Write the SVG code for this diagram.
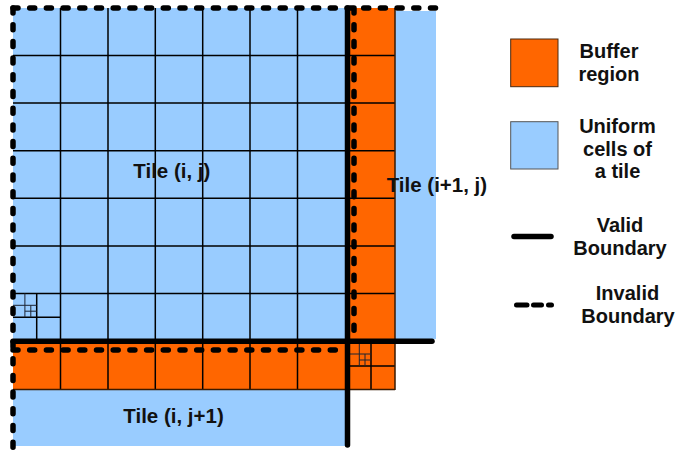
<svg xmlns="http://www.w3.org/2000/svg" width="691" height="450" viewBox="0 0 691 450">
  <style>
    .cell { fill: #99ccff; }
    .buf { fill: #ff6600; }
    .grid { stroke: #000; stroke-width: 1.5; fill: none; }
    .fine { stroke: #1c2433; stroke-width: 1; fill: none; }
    .edge { stroke: #3a1a00; stroke-width: 1.5; fill: none; }
    .valid { stroke: #000; stroke-width: 5.5; stroke-linecap: round; fill: none; }
    .invalid { stroke: #000; stroke-width: 5.5; stroke-linecap: round; stroke-dasharray: 5 11.7; fill: none; }
    .label { font-family: "Liberation Sans", Arial, sans-serif; font-weight: bold; font-size: 20.5px; fill: #111; }
    .legend { font-family: "Liberation Sans", Arial, sans-serif; font-weight: bold; font-size: 20px; fill: #111; text-anchor: middle; }
  </style>

  <!-- Tile (i, j): 7x7 uniform cells -->
  <g id="tile-i-j">
    <rect class="cell" x="13" y="8" width="332" height="333"/>
    <path class="grid" d="M60.5 8V341 M108 8V341 M155.3 8V341 M202.7 8V341 M250 8V341 M297.5 8V341
                          M13 55.6H345 M13 103.1H345 M13 150.7H345 M13 198.3H345 M13 245.9H345 M13 293.4H345"/>
    <!-- refined corner cell -->
    <path class="grid" d="M36.7 293.4V341 M13 317.2H60.5"/>
    <path class="fine" d="M24.9 293.4V317.2 M13 305.3H36.7 M30.8 305.3V317.2 M24.9 311.2H36.7"/>
    <text class="label" x="133.3" y="178.3">Tile (i, j)</text>
  </g>

  <!-- Tile (i+1, j) with its buffer column -->
  <g id="tile-i1-j">
    <rect class="cell" x="395" y="11" width="41" height="328"/>
    <rect class="buf" x="349" y="8" width="46" height="334"/>
    <path class="grid" d="M349 55.6H395 M349 103.1H395 M349 150.7H395 M349 198.3H395 M349 245.9H395 M349 293.4H395"/>
    <path class="edge" d="M395 8V342"/>
  </g>

  <!-- Tile (i, j+1) with its buffer row -->
  <g id="tile-i-j1">
    <rect class="cell" x="13" y="390" width="332" height="56"/>
    <rect class="buf" x="13" y="342" width="334" height="48"/>
    <path class="grid" d="M60.5 342V390 M108 342V390 M155.3 342V390 M202.7 342V390 M250 342V390 M297.5 342V390"/>
    <path class="edge" d="M13 389.5H347"/>
  </g>

  <!-- Corner buffer cell, refined -->
  <g id="corner-buffer">
    <rect class="buf" x="347" y="342" width="48" height="48"/>
    <path class="grid" d="M371 342V390 M347 366H395"/>
    <path class="fine" d="M359.3 342V366 M347 354H371 M365 354V366 M359.3 360H371"/>
    <path class="edge" d="M395 342V390 M347 389.5H395"/>
  </g>

  <!-- Tile boundaries -->
  <g id="boundaries">
    <path class="invalid" d="M13 8H437"/>
    <path class="invalid" d="M13 8V450"/>
    <path class="invalid" d="M354 8V340"/>
    <path class="invalid" d="M13 350H345"/>
    <path class="valid" d="M347.5 8V445"/>
    <path class="valid" d="M13 341.3H432"/>
  </g>

  <text class="label" x="386.7" y="191.7">Tile (i+1, j)</text>
  <text class="label" x="123.3" y="423.3">Tile (i, j+1)</text>

  <!-- Legend -->
  <g id="legend-buffer">
    <rect class="buf" x="510.7" y="39" width="47.3" height="47.7" stroke="#4a2a10" stroke-width="1"/>
    <text class="legend" x="609" y="58.3">Buffer</text>
    <text class="legend" x="609" y="80.5">region</text>
  </g>
  <g id="legend-cells">
    <rect class="cell" x="510.7" y="121.7" width="47.3" height="47.3" stroke="#555" stroke-width="1"/>
    <text class="legend" x="617.5" y="133.3">Uniform</text>
    <text class="legend" x="617.5" y="156">cells of</text>
    <text class="legend" x="617.5" y="178.3">a tile</text>
  </g>
  <g id="legend-valid">
    <path class="valid" d="M514 236.5H551" stroke-width="5"/>
    <text class="legend" x="620" y="231.7">Valid</text>
    <text class="legend" x="620" y="255">Boundary</text>
  </g>
  <g id="legend-invalid">
    <path d="M516.5 305H527 M533.5 305H541.5 M548.5 305H551.5" stroke="#000" stroke-width="5" stroke-linecap="round"/>
    <text class="legend" x="627.5" y="300">Invalid</text>
    <text class="legend" x="628" y="322.7">Boundary</text>
  </g>
</svg>
